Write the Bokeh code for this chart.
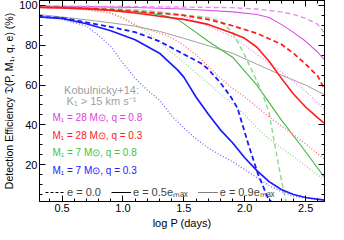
from bokeh.plotting import figure
from bokeh.models import (Range1d, LinearAxis, Label, Legend, LegendItem,
                          SingleIntervalTicker, NumeralTickFormatter, CustomJSTickFormatter)
from bokeh.embed import file_html
from bokeh.resources import INLINE

# ---- data (log P in days, detection efficiency in %) ----
blue_solid_x = [0.3, 0.5, 0.7, 0.9, 1.1, 1.3, 1.45, 1.5, 1.6, 1.7, 1.8, 1.9, 2.0, 2.1, 2.2, 2.3, 2.4, 2.5, 2.65]
blue_solid_y = [94.3, 93.5, 90.8, 87.3, 82.8, 76.0, 67.5, 64.0, 54.0, 45.5, 37.5, 31.0, 23.5, 17.0, 11.5, 7.5, 5.0, 3.5, 2.2]
blue_dash_x = [0.3, 0.5, 0.7, 0.9, 1.1, 1.3, 1.5, 1.64, 1.7, 1.8, 1.88, 1.94, 2.03, 2.11, 2.19, 2.23]
blue_dash_y = [94.3, 93.8, 91.5, 89.2, 86.6, 82.0, 75.5, 71.0, 68.0, 61.2, 54.6, 48.6, 30.2, 15.1, 3.4, 0.5]
blue_dot_x = [0.3, 0.5, 0.7, 0.8, 0.9, 1.0, 1.1, 1.2, 1.3, 1.4, 1.5, 1.6, 1.7, 1.8, 1.9, 2.0, 2.1, 2.2, 2.3, 2.4, 2.5, 2.65]
blue_dot_y = [94.3, 93.0, 89.7, 85.0, 79.5, 71.0, 63.5, 57.5, 52.5, 44.5, 38.5, 33.0, 28.5, 24.8, 21.5, 17.5, 13.5, 9.5, 6.5, 4.2, 3.2, 2.4]

green_solid_x = [0.3, 0.7, 1.1, 1.3, 1.45, 1.6, 1.7, 1.9, 2.1, 2.3, 2.5, 2.65]
green_solid_y = [99.2, 98.7, 97.0, 95.4, 93.0, 86.5, 82.0, 74.0, 60.0, 42.5, 26.5, 14.0]
green_dash_x = [0.3, 0.7, 1.1, 1.3, 1.5, 1.7, 1.8, 1.9, 2.0, 2.1, 2.15, 2.2, 2.25, 2.3, 2.34]
green_dash_y = [99.3, 98.9, 97.8, 96.8, 95.3, 94.0, 92.0, 86.5, 75.0, 62.0, 55.0, 46.0, 29.0, 12.5, 1.0]
green_dot_x = [0.3, 0.5, 0.7, 0.9, 1.0, 1.1, 1.2, 1.3, 1.4, 1.5, 1.6, 1.7, 1.8, 1.9, 2.0, 2.1, 2.2, 2.3, 2.4, 2.5, 2.65]
green_dot_y = [99.1, 98.8, 98.0, 96.3, 94.0, 90.5, 86.5, 81.5, 76.5, 71.5, 66.0, 61.0, 55.5, 50.5, 45.0, 38.5, 33.0, 28.5, 24.0, 19.5, 12.5]

red_solid_x = [0.3, 0.5, 0.7, 0.9, 1.1, 1.3, 1.5, 1.7, 1.9, 2.0, 2.1, 2.2, 2.3, 2.4, 2.5, 2.6, 2.65]
red_solid_y = [99.0, 98.8, 98.3, 97.5, 96.2, 94.6, 93.0, 90.5, 86.0, 83.5, 79.0, 72.0, 63.5, 55.5, 49.0, 43.5, 41.0]
red_dash_x = [0.3, 0.5, 0.7, 0.9, 1.1, 1.3, 1.5, 1.7, 1.9, 2.1, 2.3, 2.4, 2.5, 2.6, 2.65]
red_dash_y = [99.2, 99.0, 98.6, 97.9, 97.0, 96.1, 95.0, 93.0, 89.8, 86.0, 80.5, 76.0, 70.5, 64.5, 58.5]
red_dot_x = [0.3, 0.5, 0.7, 0.9, 1.0, 1.1, 1.2, 1.3, 1.4, 1.5, 1.6, 1.7, 1.8, 1.9, 2.0, 2.1, 2.2, 2.3, 2.4, 2.5, 2.65]
red_dot_y = [99.0, 98.6, 97.8, 96.2, 93.5, 90.0, 88.0, 86.2, 83.8, 80.0, 75.2, 69.5, 63.5, 58.3, 54.0, 49.0, 44.0, 39.5, 35.0, 30.5, 23.0]

mag_solid_x = [0.3, 0.7, 1.1, 1.5, 1.9, 2.1, 2.2, 2.3, 2.4, 2.5, 2.6, 2.65]
mag_solid_y = [99.6, 99.4, 99.0, 98.2, 96.8, 95.5, 94.0, 90.5, 86.5, 82.0, 76.5, 73.0]
mag_dash_x = [0.3, 0.7, 1.1, 1.5, 1.9, 2.1, 2.3, 2.4, 2.5, 2.6, 2.65]
mag_dash_y = [99.8, 99.6, 99.4, 99.2, 98.9, 98.2, 96.8, 95.5, 93.5, 90.5, 86.5]
mag_dot_x = [0.3, 0.7, 1.1, 1.3, 1.5, 1.7, 1.9, 2.1, 2.3, 2.5, 2.65]
mag_dot_y = [99.6, 99.3, 98.0, 96.8, 94.8, 89.5, 84.3, 75.5, 66.5, 57.0, 48.0]

kob_x = [0.3, 0.5, 0.7, 0.9, 1.1, 1.3, 1.5, 1.7, 1.9, 2.1, 2.3, 2.5, 2.65]
kob_y = [95.5, 94.2, 92.8, 91.3, 89.6, 87.0, 83.5, 79.8, 76.0, 70.5, 65.0, 60.0, 55.3]

model_labels = ["M\u2081 = 28 M\u2299, q = 0.8", "M\u2081 = 28 M\u2299, q = 0.3",
                "M\u2081 =   7 M\u2299, q = 0.8", "M\u2081 =   7 M\u2299, q = 0.3"]
ecc_labels = ["e = 0.0", "e = 0.5e\u2098\u2090\u2093", "e = 0.9e\u2098\u2090\u2093"]
kob_labels = ["Kobulnicky+14:", "K\u2081 > 15 km s\u207b\u00b9"]
x_title = "log P (days)"
y_title = "Detection Efficiency \U0001D507(P, M\u2081, q, e) (%)"

FONT = "Liberation Sans"
MAG, MAG_L = "#dc50e6", "#e58cf0"
RED, RED_L = "#ff1a1a", "#ff6a6a"
GRN, GRN_L = "#3cbc3c", "#8fd68f"
BLU, BLU_L = "#1a1aff", "#6a6aff"
NAN = float("nan")

p = figure(width=336, height=232, output_backend="svg", toolbar_location=None,
           x_range=Range1d(0.315, 2.655), y_range=Range1d(1.5, 102.5),
           min_border_left=34, min_border_right=12, min_border_top=0, min_border_bottom=31)
p.xgrid.visible = False
p.ygrid.visible = False
p.outline_line_color = "black"
p.background_fill_color = "white"

xt = SingleIntervalTicker(interval=0.5, num_minor_ticks=5)
yt = SingleIntervalTicker(interval=20, num_minor_ticks=4)

for ax, tk in ((p.xaxis[0], xt), (p.yaxis[0], yt)):
    ax.ticker = tk
    ax.major_tick_in = 6
    ax.major_tick_out = 0
    ax.minor_tick_in = 3
    ax.minor_tick_out = 0
    ax.axis_line_color = "black"
    ax.major_label_text_font = FONT
    ax.major_label_text_font_size = "11px"
    ax.major_label_text_color = "black"
    ax.axis_label_text_font = FONT
    ax.axis_label_text_font_size = "11px"
    ax.axis_label_text_font_style = "normal"
    ax.axis_label_text_color = "black"

p.yaxis[0].major_label_standoff = 2
p.yaxis[0].axis_label_standoff = 1
p.yaxis[0].axis_label_text_font_size = "10.5px"
p.yaxis[0].axis_label = y_title
p.xaxis[0].major_label_standoff = 2
p.xaxis[0].axis_label_standoff = 2
p.xaxis[0].axis_label = x_title
p.xaxis[0].formatter = NumeralTickFormatter(format="0.0")

for loc, tk in (("above", SingleIntervalTicker(interval=0.5, num_minor_ticks=5)),
                ("right", SingleIntervalTicker(interval=20, num_minor_ticks=4))):
    ax = LinearAxis(ticker=tk, major_tick_in=6, major_tick_out=0, minor_tick_in=3,
                    minor_tick_out=0, formatter=CustomJSTickFormatter(code="return ''"),
                    major_label_standoff=0, axis_line_color="black")
    p.add_layout(ax, loc)

# curves
p.line(kob_x, kob_y, line_color="#a0a0a0", line_width=1)

p.line(mag_dot_x, mag_dot_y, line_color=MAG_L, line_width=1.3, line_dash="1 2")
p.line(mag_solid_x, mag_solid_y, line_color=MAG, line_width=1.1)
p.line(mag_dash_x, mag_dash_y, line_color=MAG_L, line_width=1.4, line_dash="5 3")

p.line(green_dot_x, green_dot_y, line_color=GRN_L, line_width=1.3, line_dash="1 2")
p.line(green_solid_x, green_solid_y, line_color=GRN, line_width=1.1)
p.line(green_dash_x, green_dash_y, line_color=GRN_L, line_width=1.4, line_dash="5 3")

p.line(red_dot_x, red_dot_y, line_color=RED_L, line_width=1.3, line_dash="1 2")
p.line(red_solid_x, red_solid_y, line_color=RED, line_width=1.6)
p.line(red_dash_x, red_dash_y, line_color=RED, line_width=1.7, line_dash="5 3")

p.line(blue_dot_x, blue_dot_y, line_color=BLU_L, line_width=1.3, line_dash="1 2")
p.line(blue_solid_x, blue_solid_y, line_color=BLU, line_width=1.7)
p.line(blue_dash_x, blue_dash_y, line_color=BLU, line_width=1.8, line_dash="5 3")

# text labels
for i, t in enumerate(kob_labels):
    p.add_layout(Label(x=62, y=112 - 11 * i, x_units="screen", y_units="screen", text=t,
                       text_font=FONT, text_font_size="11px", text_color="#a0a0a0",
                       text_align="center", text_baseline="middle"))

for i, (t, c) in enumerate(zip(model_labels, ["#e040e0", "#ff2020", "#44c044", "#2020ff"])):
    p.add_layout(Label(x=13, y=84 - 17.5 * i, x_units="screen", y_units="screen", text=t,
                       text_font=FONT, text_font_size="10px", text_color=c,
                       text_baseline="middle"))

# e legend (sample lines only, no data)
r0 = p.line([NAN, NAN], [NAN, NAN], line_color="black", line_width=1, line_dash="3 2")
r1 = p.line([NAN, NAN], [NAN, NAN], line_color="black", line_width=1)
r2 = p.line([NAN, NAN], [NAN, NAN], line_color="black", line_width=1, line_dash="1 1")
leg = Legend(items=[LegendItem(label=ecc_labels[0], renderers=[r0]),
                    LegendItem(label=ecc_labels[1], renderers=[r1]),
                    LegendItem(label=ecc_labels[2], renderers=[r2])],
             orientation="horizontal", location=(6, 2), padding=0, margin=0, spacing=10,
             glyph_width=20, glyph_height=12, label_height=12, label_standoff=2,
             label_text_font=FONT, label_text_font_size="11px",
             background_fill_alpha=0, border_line_alpha=0)
p.add_layout(leg, "center")

open("out.html", "w").write(file_html(p, INLINE))
